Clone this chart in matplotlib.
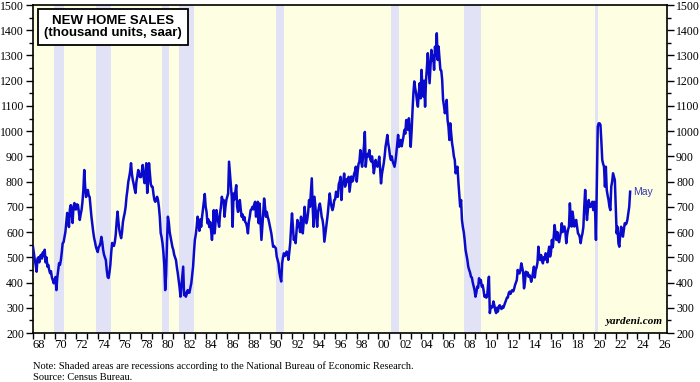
import numpy as np
import matplotlib.pyplot as plt
from matplotlib.ticker import MultipleLocator

# New home sales, thousand units saar, monthly from Jan 1968 to May 2023
sales_1960s = [
    541, 515, 490, 470, 443, 495, 500, 480, 505, 510, 495, 520,   # 1968
    505, 530, 480, 500, 463, 470, 450, 437, 445, 420, 410, 397,   # 1969
]
sales_1970s = [
    410, 422, 370, 420, 450, 477, 470, 489, 520, 556, 560, 581,   # 1970
    600, 640, 676, 650, 620, 690, 707, 680, 636, 700, 715, 690,   # 1971
    690, 710, 707, 680, 648, 670, 688, 720, 767, 846, 780, 739,   # 1972
    760, 767, 745, 739, 700, 660, 630, 600, 576, 560, 541, 530,   # 1973
    521, 540, 545, 556, 581, 560, 529, 510, 500, 489, 450, 422,   # 1974
    418, 440, 470, 520, 557, 550, 545, 561, 590, 640, 681, 641,   # 1975
    608, 590, 576, 600, 640, 660, 676, 700, 740, 767, 800, 818,   # 1976
    840, 873, 830, 806, 790, 770, 755, 800, 820, 846, 830, 818,   # 1977
    818, 840, 866, 820, 794, 830, 873, 755, 800, 873, 830, 790,   # 1978
    780, 779, 750, 727, 720, 730, 740, 727, 700, 660, 596, 580,   # 1979
]
sales_1980s = [
    556, 520, 470, 370, 430, 560, 661, 640, 600, 581, 560, 541,   # 1980
    530, 510, 500, 489, 460, 437, 410, 380, 344, 383, 420, 463,   # 1981
    350, 360, 344, 355, 370, 360, 360, 380, 397, 430, 463, 520,   # 1982
    569, 590, 620, 661, 640, 605, 650, 621, 660, 690, 720, 751,   # 1983
    700, 680, 635, 650, 620, 640, 608, 569, 620, 687, 595, 640,   # 1984
    687, 660, 640, 621, 674, 700, 740, 720, 727, 661, 700, 727,   # 1985
    740, 753, 879, 832, 780, 740, 621, 753, 730, 760, 786, 700,   # 1986
    680, 700, 727, 690, 661, 670, 648, 660, 640, 635, 620, 595,   # 1987
    640, 660, 687, 690, 700, 690, 710, 720, 661, 700, 720, 635,   # 1988
    713, 640, 569, 620, 674, 733, 700, 661, 680, 660, 648, 630,   # 1989
]
sales_1990s = [
    610, 595, 570, 542, 545, 540, 536, 503, 490, 476, 440, 420,   # 1990
    404, 476, 500, 516, 505, 510, 523, 515, 490, 520, 556, 620,   # 1991
    674, 620, 569, 580, 556, 600, 648, 620, 635, 600, 661, 640,   # 1992
    595, 640, 700, 660, 635, 650, 680, 727, 700, 760, 813, 700,   # 1993
    621, 740, 700, 660, 621, 680, 700, 713, 690, 660, 648, 620,   # 1994
    562, 590, 620, 648, 680, 720, 753, 720, 700, 687, 700, 727,   # 1995
    730, 760, 740, 740, 790, 800, 819, 727, 790, 800, 832, 780,   # 1996
    793, 810, 800, 819, 760, 790, 820, 800, 807, 830, 840, 859,   # 1997
    800, 840, 870, 880, 925, 880, 859, 900, 940, 997, 859, 900,   # 1998
    910, 900, 925, 890, 880, 900, 872, 833, 860, 886, 870, 859,   # 1999
]
sales_2000s = [
    870, 899, 850, 793, 830, 850, 872, 900, 938, 960, 985, 952,   # 2000
    930, 900, 886, 900, 880, 870, 859, 880, 912, 950, 985, 938,   # 2001
    950, 965, 940, 960, 980, 1005, 990, 1044, 1020, 1005, 1051, 1000,  # 2002
    938, 1000, 1080, 1150, 1197, 1170, 1150, 1120, 1097, 1150, 1190, 1130,  # 2003
    1243, 1180, 1137, 1200, 1097, 1200, 1250, 1309, 1250, 1190, 1260, 1322,  # 2004
    1280, 1300, 1243, 1335, 1300, 1388, 1282, 1335, 1290, 1243, 1240, 1203,  # 2005
    1124, 1100, 1071, 1090, 1124, 1044, 1018, 965, 1031, 990, 952, 930,  # 2006
    900, 886, 833, 850, 859, 800, 753, 701, 727, 648, 620, 600,   # 2007
    569, 529, 510, 490, 463, 450, 440, 423, 420, 400, 384, 370,   # 2008
    344, 360, 384, 380, 417, 400, 410, 384, 390, 370, 344, 350,   # 2009
]
sales_2010s = [
    340, 345, 390, 423, 279, 305, 300, 305, 325, 310, 290, 279,   # 2010
    300, 285, 305, 310, 300, 295, 305, 300, 310, 320, 331, 340,   # 2011
    340, 358, 364, 355, 365, 370, 365, 375, 390, 400, 410, 450,   # 2012
    440, 436, 450, 476, 460, 440, 377, 400, 443, 430, 440, 423,   # 2013
    430, 420, 403, 420, 440, 463, 420, 450, 460, 480, 542, 500,   # 2014
    489, 509, 490, 476, 500, 490, 516, 510, 480, 520, 542, 503,   # 2015
    520, 569, 540, 580, 628, 600, 569, 600, 570, 560, 582, 600,   # 2016
    635, 600, 620, 622, 600, 556, 590, 610, 622, 714, 650, 622,   # 2017
    681, 650, 622, 640, 648, 620, 595, 590, 580, 556, 580, 595,   # 2018
    620, 700, 767, 700, 648, 690, 727, 700, 700, 710, 720, 687,   # 2019
]
sales_2020s = [
    720, 690, 569, 800, 1018, 1031, 1031, 1025, 960, 886, 870, 859,  # 2020
    780, 859, 767, 745, 727, 700, 687, 780, 800, 833, 820, 806,   # 2021
    700, 595, 621, 555, 542, 590, 621, 600, 582, 610, 635, 630,   # 2022
    635, 650, 675, 700, 760,                                      # 2023
]

recession_start = ['1969-12', '1973-11', '1980-01', '1981-07', '1990-07', '2001-03', '2007-12', '2020-02']
recession_end = ['1970-11', '1975-03', '1980-07', '1982-11', '1991-03', '2001-11', '2009-06', '2020-04']

year_labels = ['68', '70', '72', '74', '76', '78', '80', '82', '84', '86', '88', '90', '92', '94', '96',
               '98', '00', '02', '04', '06', '08', '10', '12', '14', '16', '18', '20', '22', '24', '26']

sales = np.array(sales_1960s + sales_1970s + sales_1980s + sales_1990s
                 + sales_2000s + sales_2010s + sales_2020s)
t = 1968 + np.arange(len(sales)) / 12


def ym(s):
    y, m = s.split('-')
    return int(y) + (int(m) - 1) / 12


fig = plt.figure(figsize=(7, 3.82), dpi=100)
ax = fig.add_axes([33 / 700, 49 / 382, 634 / 700, 328 / 382])
ax.set_facecolor('#FEFEE2')

for s, e in zip(recession_start, recession_end):
    ax.axvspan(ym(s), ym(e) + 1 / 12, color='#E2E2F7', lw=0, zorder=1)

ax.plot(t, sales, color='#0A0ACC', lw=1.8, zorder=3)

ax.set_xlim(1968, 2026.75)
ax.set_ylim(200, 1500)

serif = 'Liberation Serif'
ax.yaxis.set_major_locator(MultipleLocator(100))
ax.yaxis.set_minor_locator(MultipleLocator(50))
ax.tick_params(axis='y', which='both', left=True, right=True, labelleft=True, labelright=True,
               direction='out', labelsize=8.5, pad=1.5)
ax.tick_params(axis='y', which='major', length=5, width=1)
ax.tick_params(axis='y', which='minor', length=3, width=1)
for lab in ax.get_yticklabels():
    lab.set_fontfamily(serif)

# year ticks at year starts, labels centred in the even years
ax.set_xticks(np.arange(1968, 2027))
ax.set_xticklabels([])
ax.set_xticks([int('19' + l) + 0.5 if int(l) > 50 else int('20' + l) + 0.5 for l in year_labels], minor=True)
ax.set_xticklabels(year_labels, minor=True, fontfamily=serif, fontsize=9)
ax.tick_params(axis='x', which='major', direction='out', length=4, width=1)
ax.tick_params(axis='x', which='minor', length=0, pad=4)

for sp in ax.spines.values():
    sp.set_linewidth(1.2)

fig.text(113 / 700, 1 - 27 / 382, 'NEW HOME SALES\n(thousand units, saar)', ha='center', va='center',
         fontsize=9.5, fontweight='bold', family='Liberation Sans', linespacing=1.05,
         bbox=dict(boxstyle='square,pad=0.45', fc='white', ec='black', lw=1.3))

ax.text(t[-1] + 0.25, sales[-1], 'May', ha='left', va='center', fontsize=7.5,
        color='#3A3AB0', family='Liberation Sans')

ax.text(0.992, 0.02, 'yardeni.com', transform=ax.transAxes, ha='right', va='bottom',
        fontsize=8, fontweight='bold', fontstyle='italic', family=serif)

fig.text(33 / 700, 1 - 366 / 382, 'Note: Shaded areas are recessions according to the National Bureau of Economic Research.',
         ha='left', va='center', fontsize=7.5, family=serif)
fig.text(33 / 700, 1 - 377 / 382, 'Source: Census Bureau.', ha='left', va='center', fontsize=7.5, family=serif)

fig.savefig('out.png', dpi=100)
